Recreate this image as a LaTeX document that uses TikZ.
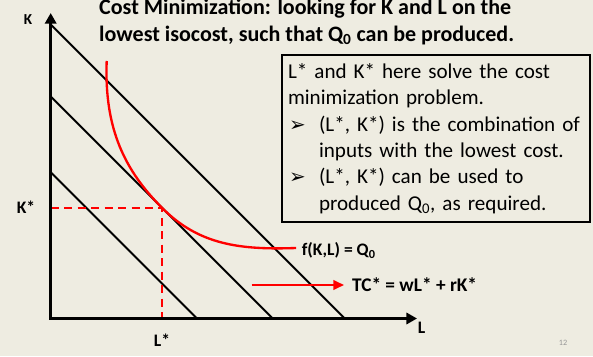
\documentclass[tikz,border=0pt]{standalone}
\usepackage{fontspec}
\setmainfont{Carlito}
\newfontfamily\symfont{DejaVu Sans}
\usetikzlibrary{arrows.meta, positioning}
\definecolor{slidebg}{RGB}{238,236,225}
\definecolor{pagegray}{RGB}{150,150,150}
\newcommand{\itm}{\makebox[0.93cm][l]{\hspace{0.03cm}{\symfont\fontsize{17}{17}\selectfont ➢}}}
\newcommand{\ind}{\hspace*{0.93cm}}

\begin{document}
\begin{tikzpicture}[
  axis/.style={line width=2.6pt, {Triangle[length=9pt, width=9.5pt]}-{Triangle[length=9pt, width=9.5pt]}},
  isocost/.style={line width=1.6pt, black},
  isoquant/.style={line width=2pt, red},
  guide/.style={line width=1.7pt, red, dash pattern=on 7pt off 4.5pt},
  redarrow/.style={line width=2pt, red, -{Triangle[length=9pt, width=8pt]}},
  lbl/.style={font=\fontsize{15}{18}\selectfont\bfseries, inner sep=1pt},
  infobox/.style={draw=black, line width=1.7pt, minimum width=9.25cm, minimum height=5cm, text width=8.87cm, inner xsep=0.19cm, align=left, font=\fontsize{18}{22.6}\selectfont}
]
% Slide background
\fill[slidebg] (-1.521,-1.125) rectangle (16.269,9.555);
\useasboundingbox (-1.521,-1.125) rectangle (16.269,9.555);

% Title
\node[anchor=base west, align=left, inner sep=0, font=\fontsize{18.8}{22.6}\selectfont\bfseries] (title) at (1.449,8.32) {Cost Minimization: looking for K and L on the\\lowest isocost, such that Q\textsubscript{0} can be produced.};

% Axis points
\coordinate (O) at (0,0);
\coordinate (ktop) at (0,9.165);
\coordinate (lend) at (10.99,0);

% Isocost lines
\coordinate (k1) at (0,4.39);
\coordinate (l1) at (4.39,0);
\coordinate (k2) at (0,6.66);
\coordinate (l2) at (6.66,0);
\coordinate (k3) at (0,8.82);
\coordinate (l3) at (8.82,0);
\draw[isocost] (k1) -- (l1);
\draw[isocost] (k2) -- (l2);
\draw[isocost] (k3) -- (l3);

% Optimum and guides
\coordinate (tp) at (3.35,3.31);
\coordinate (kstarpt) at (0,3.31);
\coordinate (lstarpt) at (3.35,0);
\draw[guide] (kstarpt) -- (tp) -- (lstarpt);

% Isoquant
\coordinate (qstart) at (1.68,7.725);
\coordinate (qend) at (7.36,2.115);
\draw[isoquant] (qstart) .. controls (1.6,5.655) and (2.25,4.41) .. (tp) .. controls (4.45,2.21) and (5.68,2.055) .. (qend);

% Axes
\draw[axis] (ktop) -- (O) -- (lend);

% Labels
\node[lbl, font=\fontsize{13}{16}\selectfont\bfseries] (klab) at (-0.68,8.955) {K};
\node[lbl] (kstar) at (-0.74,3.345) {K*};
\node[lbl] (lstar) at (3.34,-0.645) {L*};
\node[lbl] (llab) at (11.13,-0.285) {L};
\node[lbl, anchor=west] (qlab) at (7.495,2.04) {f(K,L) = Q\textsubscript{0}};
\node[lbl, anchor=west, font=\fontsize{16.5}{18}\selectfont\bfseries] (tclab) at (9.0,1.005) {TC* = wL* + rK*};

% Total cost arrow
\coordinate (tcstart) at (6.03,1.005);
\draw[redarrow, shorten >=0.2cm] (tcstart) -- (tclab.west);

% Explanation box
\node[infobox] (expl) at (11.555,5.40) {L* and K* here solve the cost\\minimization problem.\\\itm(L*, K*) is the combination of\\\ind inputs with the lowest cost.\\\itm(L*, K*) can be used to\\\ind produced Q\textsubscript{0}, as required.};

% Page number
\node[font=\fontsize{7}{8}\selectfont, text=pagegray] (pagenum) at (15.37,-0.735) {12};
\end{tikzpicture}
\end{document}
